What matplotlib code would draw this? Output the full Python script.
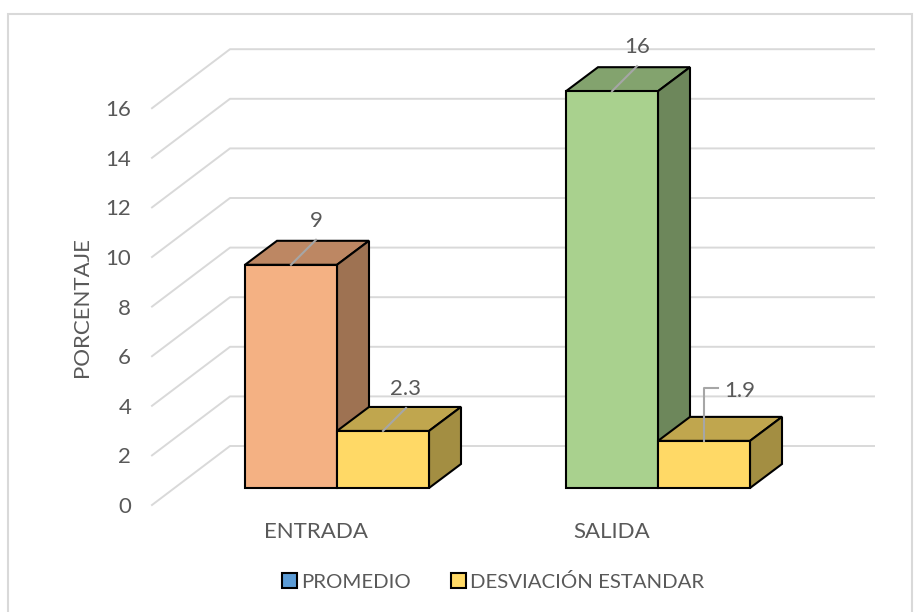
import matplotlib.pyplot as plt
from matplotlib.patches import Patch, Rectangle

plt.rcParams['font.family'] = ['Lato', 'DejaVu Sans']

categories = ['ENTRADA', 'SALIDA']
promedio = [9, 16]
desviacion = [2.3, 1.9]
y_ticks = [0, 2, 4, 6, 8, 10, 12, 14, 16]

# colores (frente, arriba, lado)
colores_promedio = [('#F4B183', '#BD8763', '#9E7252'), ('#A9D18E', '#83A36E', '#6D875B')]
colores_desv = ('#FFD966', '#C0A64E', '#A38E42')
gris = '#595959'

# pixeles por unidad, para pasar la perspectiva a unidades de datos
px_x = 321
px_y = 24.8
ancho = 92 / px_x
dx = 32 / px_x
dy = 24 / px_y
base = 17 / px_y
muro_x = 78 / px_x
muro_y = 59 / px_y
x0 = -185 / px_x

fig = plt.figure(figsize=(9.18, 6.12), dpi=100)
fig.add_artist(Rectangle((8 / 918, -0.01), 904 / 918, 1 - 14 / 612 + 0.01, transform=fig.transFigure,
                         fc='white', ec='#D9D9D9', lw=1.5, zorder=-1))

ax = fig.add_axes([152 / 918, 1 - 505 / 612, 722 / 918, 456 / 612])
ax.patch.set_alpha(0)
ax.set_xlim(x0, x0 + 722 / px_x)
ax.set_ylim(0, 456 / px_y)
for s in ax.spines.values():
    s.set_visible(False)

# rejilla: tramo inclinado y tramo de fondo
for v in y_ticks:
    ax.plot([x0, x0 + muro_x, x0 + 722 / px_x], [v, v + muro_y, v + muro_y],
            color='#D9D9D9', lw=1.4, zorder=1, clip_on=False)


def barra(x, valor, cols):
    y1 = base + valor
    izq, der = x, x + ancho
    ax.fill([izq, der, der + dx, izq + dx], [y1, y1, y1 + dy, y1 + dy], fc=cols[1], ec='black', lw=1.5, zorder=2)
    ax.fill([der, der + dx, der + dx, der], [base, base + dy, y1 + dy, y1], fc=cols[2], ec='black', lw=1.5, zorder=2)
    ax.fill([izq, der, der, izq], [base, base, y1, y1], fc=cols[0], ec='black', lw=1.5, zorder=2)


for i in range(len(categories)):
    barra(i - ancho, promedio[i], colores_promedio[i])
    barra(i, desviacion[i], colores_desv)

# etiquetas con linea guia
for i, v in enumerate(promedio):
    xm = i - ancho / 2
    ax.plot([xm, xm + 25 / px_x], [base + v, base + v + 25 / px_y], color='#A6A6A6', lw=1.5, zorder=3)
    ax.text(xm + 25 / px_x, base + v + 44 / px_y, str(v), ha='center', va='center', fontsize=16, color=gris, zorder=3)

xm = ancho / 2
v = desviacion[0]
ax.plot([xm, xm + 23 / px_x], [base + v, base + v + 23 / px_y], color='#A6A6A6', lw=1.5, zorder=3)
ax.text(xm + 23 / px_x, base + v + 42 / px_y, str(v), ha='center', va='center', fontsize=16, color=gris, zorder=3)

xm = 1 + ancho / 2
v = desviacion[1]
ax.plot([xm, xm, xm + 14 / px_x], [base + v, base + v + 53 / px_y, base + v + 53 / px_y],
        color='#A6A6A6', lw=1.5, zorder=3)
ax.text(xm + 36 / px_x, base + v + 50 / px_y, str(v), ha='center', va='center', fontsize=16, color=gris, zorder=3)

ax.set_yticks(y_ticks)
ax.set_xticks([-21 / px_x, 1 - 46 / px_x])
ax.set_xticklabels(categories)
ax.tick_params(axis='both', length=0, labelsize=16, labelcolor=gris)
ax.tick_params(axis='y', pad=15)
ax.tick_params(axis='x', pad=12)
ax.set_ylabel('PORCENTAJE', fontsize=16, color=gris)
ax.yaxis.set_label_coords(-60 / 722, 198 / 456)

handles = [Patch(fc='#5B9BD5', ec='black', lw=1.5), Patch(fc=colores_desv[0], ec='black', lw=1.5)]
fig.legend(handles, ['PROMEDIO', 'DESVIACIÓN ESTANDAR'], loc='center', bbox_to_anchor=(493 / 918, 1 - 582 / 612),
           ncol=2, frameon=False, fontsize=14.7, labelcolor=gris, handlelength=0.75, handleheight=0.75,
           handletextpad=0.2, columnspacing=1.95)

fig.savefig('out.png', dpi=100)
